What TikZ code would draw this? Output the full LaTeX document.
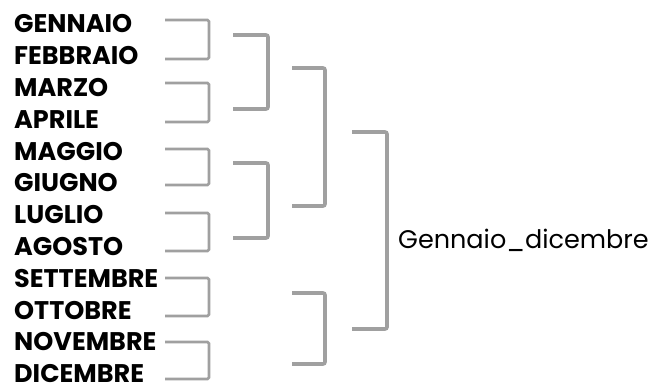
\documentclass[tikz,border=0pt]{standalone}
\usepackage{fontspec}
\setmainfont{Poppins}
\usepackage{xcolor}
\usetikzlibrary{positioning}

\definecolor{brackgray}{RGB}{160,160,160}

\tikzset{
  month/.style={inner sep=0pt, anchor=west, font=\fontsize{25.5}{25.5}\selectfont\bfseries},
  lev1/.style={draw=brackgray, line width=2.6pt, rounded corners=1.5pt},
  lev2/.style={draw=brackgray, line width=3.6pt, rounded corners=2pt}
}

\begin{document}
\begin{tikzpicture}[x=1pt, y=-1pt, node distance=31.8pt]
        \useasboundingbox (0,0) rectangle (652,385);

        % months
        \node (gen) [month] at (14,24) {GENNAIO};
        \node (feb) [month, below=of gen.west, anchor=west] {FEBBRAIO};
        \node (mar) [month, below=of feb.west, anchor=west] {MARZO};
        \node (apr) [month, below=of mar.west, anchor=west] {APRILE};
        \node (mag) [month, below=of apr.west, anchor=west] {MAGGIO};
        \node (giu) [month, below=of mag.west, anchor=west] {GIUGNO};
        \node (lug) [month, below=of giu.west, anchor=west] {LUGLIO};
        \node (ago) [month, below=of lug.west, anchor=west] {AGOSTO};
        \node (set) [month, below=of ago.west, anchor=west] {SETTEMBRE};
        \node (ott) [month, below=of set.west, anchor=west] {OTTOBRE};
        \node (nov) [month, below=of ott.west, anchor=west] {NOVEMBRE};
        \node (dic) [month, below=of nov.west, anchor=west] {DICEMBRE};

        \node (anno) [anchor=west, inner sep=0pt, font=\fontsize{25.5}{25.5}\selectfont] at (398,240) {Gennaio\_dicembre};

        % bracket ends
        \coordinate (c1) at (165,20);   \coordinate (c2) at (165,59);
        \coordinate (c3) at (165,83);   \coordinate (c4) at (165,122);
        \coordinate (c5) at (165,149);  \coordinate (c6) at (165,185);
        \coordinate (c7) at (165,213);  \coordinate (c8) at (165,251);
        \coordinate (c9) at (165,278);  \coordinate (c10) at (165,316);
        \coordinate (c11) at (165,342); \coordinate (c12) at (165,379);
        \coordinate (q1) at (233,35);   \coordinate (q2) at (233,109);
        \coordinate (q3) at (233,163);  \coordinate (q4) at (233,238);
        \coordinate (s1) at (292,68);   \coordinate (s2) at (292,206);
        \coordinate (s3) at (292,293);  \coordinate (s4) at (292,364);
        \coordinate (y1) at (352,132);  \coordinate (y2) at (352,329);

        \draw[lev1] (c1) -- ++(44,0) |- (c2);
        \draw[lev1] (c3) -- ++(44,0) |- (c4);
        \draw[lev1] (c5) -- ++(44,0) |- (c6);
        \draw[lev1] (c7) -- ++(44,0) |- (c8);
        \draw[lev1] (c9) -- ++(44,0) |- (c10);
        \draw[lev1] (c11) -- ++(44,0) |- (c12);
        \draw[lev2] (q1) -- ++(35,0) |- (q2);
        \draw[lev2] (q3) -- ++(35,0) |- (q4);
        \draw[lev2] (s1) -- ++(33,0) |- (s2);
        \draw[lev2] (s3) -- ++(33,0) |- (s4);
        \draw[lev2] (y1) -- ++(35,0) |- (y2);
    \end{tikzpicture}
\end{document}
